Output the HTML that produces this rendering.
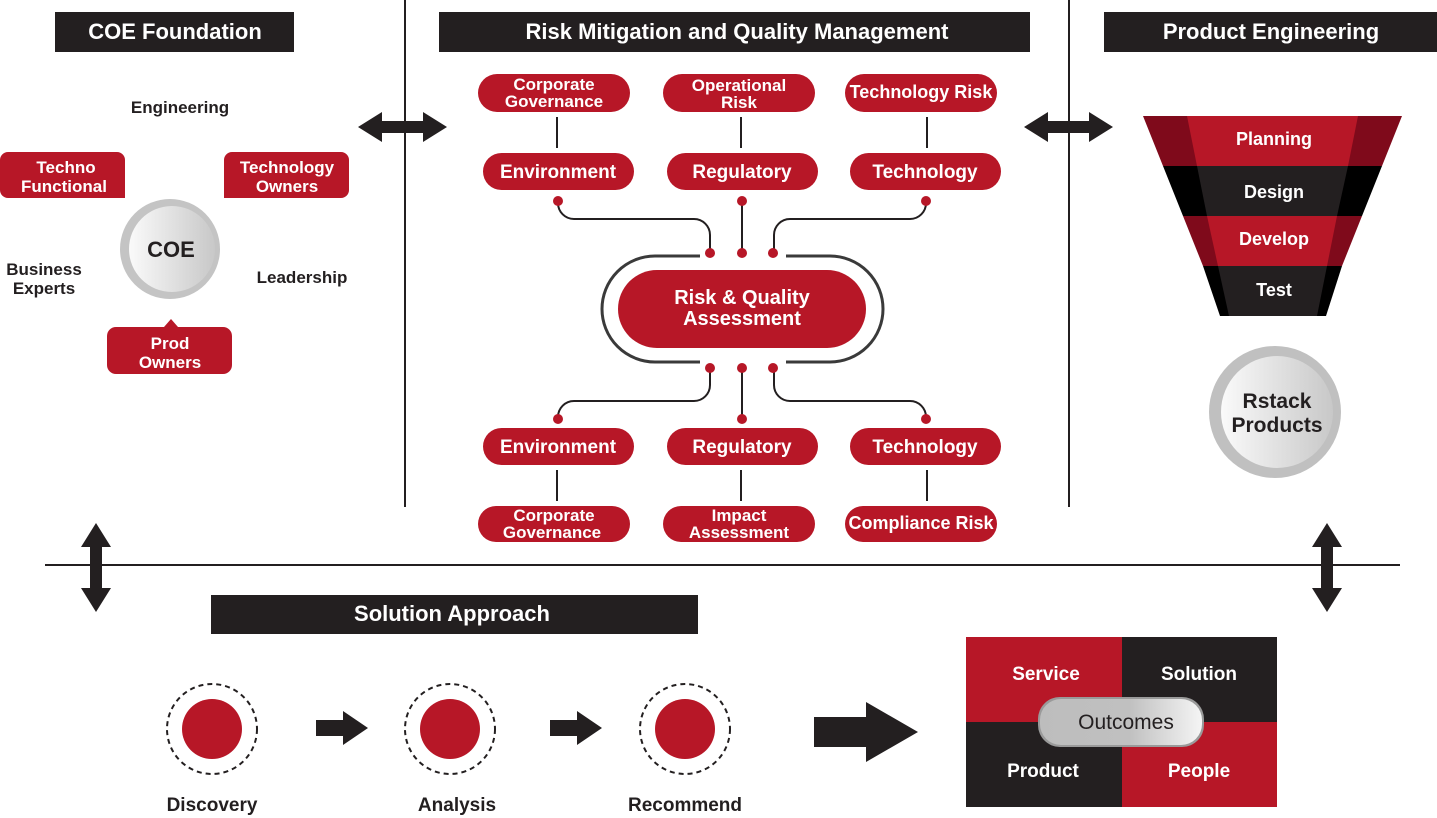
<!DOCTYPE html>
<html><head><meta charset="utf-8"><style>
html,body{margin:0;padding:0;background:#fff;width:1437px;height:818px;overflow:hidden}
text{font-family:"Liberation Sans",sans-serif;font-weight:bold}
</style></head><body>
<svg width="1437" height="818" viewBox="0 0 1437 818" xmlns="http://www.w3.org/2000/svg">
<defs>
<linearGradient id="g1" x1="0" y1="0" x2="1" y2="0"><stop offset="0" stop-color="#fafafa"/><stop offset="1" stop-color="#c8c8c8"/></linearGradient>
<linearGradient id="g2" x1="0" y1="0" x2="1" y2="0"><stop offset="0" stop-color="#bdbdbd"/><stop offset="0.55" stop-color="#c0c0c0"/><stop offset="1" stop-color="#f5f5f5"/></linearGradient>
<g id="dbl"><polygon points="0,0 24,-15 24,-6 65,-6 65,-15 89,0 65,15 65,6 24,6 24,15" fill="#231f20"/></g>
</defs>
<rect x="55" y="12" width="239" height="40" fill="#231f20"/>
<text x="175" y="39" fill="#fff" font-size="22" text-anchor="middle">COE Foundation</text>
<rect x="439" y="12" width="591" height="40" fill="#231f20"/>
<text x="737" y="39" fill="#fff" font-size="22" text-anchor="middle">Risk Mitigation and Quality Management</text>
<rect x="1104" y="12" width="333" height="40" fill="#231f20"/>
<text x="1271" y="39" fill="#fff" font-size="22" text-anchor="middle">Product Engineering</text>
<rect x="211" y="595" width="487" height="39" fill="#231f20"/>
<text x="452" y="621" fill="#fff" font-size="22" text-anchor="middle">Solution Approach</text>
<line x1="405" y1="0" x2="405" y2="507" stroke="#231f20" stroke-width="2"/>
<line x1="1069" y1="0" x2="1069" y2="507" stroke="#231f20" stroke-width="2"/>
<line x1="45" y1="565" x2="1400" y2="565" stroke="#231f20" stroke-width="2"/>
<use href="#dbl" x="358" y="127"/>
<use href="#dbl" x="1024" y="127"/>
<use href="#dbl" transform="translate(96,523) rotate(90)"/>
<use href="#dbl" transform="translate(1327,523) rotate(90)"/>
<text x="180" y="113" font-size="17" fill="#231f20" text-anchor="middle">Engineering</text>
<path d="M0,160 a8,8 0 0 1 8,-8 H117 a8,8 0 0 1 8,8 V198 H8 a8,8 0 0 1 -8,-8 Z" fill="#b71727"/>
<text x="66" y="173" font-size="17" fill="#fff" text-anchor="middle">Techno</text>
<text x="64" y="192" font-size="17" fill="#fff" text-anchor="middle">Functional</text>
<path d="M224,160 a8,8 0 0 1 8,-8 H341 a8,8 0 0 1 8,8 V190 a8,8 0 0 1 -8,8 H224 Z" fill="#b71727"/>
<text x="287" y="173" font-size="17" fill="#fff" text-anchor="middle">Technology</text>
<text x="287" y="192" font-size="17" fill="#fff" text-anchor="middle">Owners</text>
<circle cx="170" cy="249" r="50" fill="#c4c4c4"/>
<circle cx="172" cy="249" r="43" fill="url(#g1)"/>
<text x="171" y="257" font-size="22" fill="#231f20" text-anchor="middle" font-weight="normal">COE</text>
<text x="44" y="275" font-size="17" fill="#231f20" text-anchor="middle">Business</text>
<text x="44" y="294" font-size="17" fill="#231f20" text-anchor="middle">Experts</text>
<text x="302" y="283" font-size="17" fill="#231f20" text-anchor="middle">Leadership</text>
<path d="M107,336 a9,9 0 0 1 9,-9 H164 L171,319 L178,327 H223 a9,9 0 0 1 9,9 V365 a9,9 0 0 1 -9,9 H116 a9,9 0 0 1 -9,-9 Z" fill="#b71727"/>
<text x="170" y="349" font-size="17" fill="#fff" text-anchor="middle">Prod</text>
<text x="170" y="368" font-size="17" fill="#fff" text-anchor="middle">Owners</text>
<g fill="#b71727">
<rect x="478" y="74" width="152" height="38" rx="19"/>
<rect x="663" y="74" width="152" height="38" rx="19"/>
<rect x="845" y="74" width="152" height="38" rx="19"/>
<rect x="483" y="153" width="151" height="37" rx="18.5"/>
<rect x="667" y="153" width="151" height="37" rx="18.5"/>
<rect x="850" y="153" width="151" height="37" rx="18.5"/>
<rect x="483" y="428" width="151" height="37" rx="18.5"/>
<rect x="667" y="428" width="151" height="37" rx="18.5"/>
<rect x="850" y="428" width="151" height="37" rx="18.5"/>
<rect x="478" y="506" width="152" height="36" rx="18"/>
<rect x="663" y="506" width="152" height="36" rx="18"/>
<rect x="845" y="506" width="152" height="36" rx="18"/>
<rect x="618" y="270" width="248" height="78" rx="39"/>
</g>
<g fill="#fff" font-size="17" text-anchor="middle">
<text x="554" y="90">Corporate</text><text x="554" y="107">Governance</text>
<text x="739" y="91">Operational</text><text x="739" y="108">Risk</text>
<text x="921" y="98" font-size="18">Technology Risk</text>
<text x="558" y="178" font-size="19">Environment</text><text x="742" y="178" font-size="19">Regulatory</text><text x="925" y="178" font-size="19">Technology</text>
<text x="558" y="453" font-size="19">Environment</text><text x="742" y="453" font-size="19">Regulatory</text><text x="925" y="453" font-size="19">Technology</text>
<text x="554" y="521">Corporate</text><text x="552" y="538">Governance</text>
<text x="739" y="521">Impact</text><text x="739" y="538">Assessment</text>
<text x="921" y="529" font-size="18">Compliance Risk</text>
<text x="742" y="304" font-size="20">Risk &amp; Quality</text>
<text x="742" y="325" font-size="20">Assessment</text>
</g>
<g stroke="#231f20" stroke-width="2" fill="none">
<line x1="557" y1="117" x2="557" y2="148"/><line x1="741" y1="117" x2="741" y2="148"/><line x1="927" y1="117" x2="927" y2="148"/>
<line x1="557" y1="470" x2="557" y2="501"/><line x1="741" y1="470" x2="741" y2="501"/><line x1="927" y1="470" x2="927" y2="501"/>
<path d="M558,201 v2 a16,16 0 0 0 16,16 h120 a16,16 0 0 1 16,16 v18"/>
<line x1="742" y1="201" x2="742" y2="253"/>
<path d="M926,201 v2 a16,16 0 0 1 -16,16 h-120 a16,16 0 0 0 -16,16 v18"/>
<path d="M558,419 v-2 a16,16 0 0 1 16,-16 h120 a16,16 0 0 0 16,-16 v-18"/>
<line x1="742" y1="367" x2="742" y2="419"/>
<path d="M926,419 v-2 a16,16 0 0 0 -16,-16 h-120 a16,16 0 0 1 -16,-16 v-18"/>
</g>
<g stroke="#3a3a3a" stroke-width="3" fill="none">
<path d="M700,256 H655 a53,53 0 0 0 0,106 H700"/>
<path d="M786,256 H830 a53,53 0 0 1 0,106 H786"/>
</g>
<g fill="#b71727">
<circle cx="558" cy="201" r="5"/><circle cx="742" cy="201" r="5"/><circle cx="926" cy="201" r="5"/>
<circle cx="710" cy="253" r="5"/><circle cx="742" cy="253" r="5"/><circle cx="773" cy="253" r="5"/>
<circle cx="710" cy="368" r="5"/><circle cx="742" cy="368" r="5"/><circle cx="773" cy="368" r="5"/>
<circle cx="558" cy="419" r="5"/><circle cx="742" cy="419" r="5"/><circle cx="926" cy="419" r="5"/>
</g>
<polygon points="1143,116 1402,116 1382,166 1163,166" fill="#7f0a1b"/>
<polygon points="1163,166 1382,166 1362,216 1183,216" fill="#000"/>
<polygon points="1183,216 1362,216 1342,266 1203,266" fill="#7f0a1b"/>
<polygon points="1203,266 1342,266 1326,316 1220,316" fill="#000"/>
<polygon points="1187,116 1358,116 1348,166 1197,166" fill="#b71727"/>
<polygon points="1197,166 1348,166 1337,216 1207,216" fill="#231f20"/>
<polygon points="1207,216 1337,216 1327,266 1218,266" fill="#b71727"/>
<polygon points="1218,266 1327,266 1317,316 1229,316" fill="#231f20"/>
<g fill="#fff" font-size="18" text-anchor="middle">
<text x="1274" y="145">Planning</text><text x="1274" y="198">Design</text>
<text x="1274" y="245">Develop</text><text x="1274" y="296">Test</text>
</g>
<circle cx="1275" cy="412" r="66" fill="#c0c0c0"/>
<circle cx="1277" cy="412" r="56" fill="url(#g1)"/>
<text x="1277" y="408" font-size="21" fill="#231f20" text-anchor="middle" font-weight="normal">Rstack</text>
<text x="1277" y="432" font-size="21" fill="#231f20" text-anchor="middle" font-weight="normal">Products</text>
<g fill="none" stroke="#231f20" stroke-width="2" stroke-dasharray="5,4">
<circle cx="212" cy="729" r="45"/><circle cx="450" cy="729" r="45"/><circle cx="685" cy="729" r="45"/>
</g>
<g fill="#b71727"><circle cx="212" cy="729" r="30"/><circle cx="450" cy="729" r="30"/><circle cx="685" cy="729" r="30"/></g>
<g fill="#231f20">
<polygon points="316,720 343,720 343,711 368,728 343,745 343,736 316,736"/>
<polygon points="550,720 577,720 577,711 602,728 577,745 577,736 550,736"/>
<polygon points="814,717 866,717 866,702 918,732 866,762 866,747 814,747"/>
</g>
<g font-size="19" fill="#231f20" text-anchor="middle">
<text x="212" y="811">Discovery</text><text x="457" y="811">Analysis</text><text x="685" y="811">Recommend</text>
</g>
<rect x="966" y="637" width="156" height="85" fill="#b71727"/>
<rect x="1122" y="637" width="155" height="85" fill="#231f20"/>
<rect x="966" y="722" width="156" height="85" fill="#231f20"/>
<rect x="1122" y="722" width="155" height="85" fill="#b71727"/>
<g fill="#fff" font-size="19" text-anchor="middle">
<text x="1046" y="680">Service</text><text x="1199" y="680">Solution</text>
<text x="1043" y="777">Product</text><text x="1199" y="777">People</text>
</g>
<rect x="1038" y="697" width="166" height="50" rx="22" fill="#9a9a9a"/>
<rect x="1040" y="699" width="162" height="46" rx="21" fill="url(#g2)"/>
<text x="1126" y="729" font-size="21" fill="#231f20" text-anchor="middle" style="font-weight:normal">Outcomes</text>
</svg>
</body></html>
